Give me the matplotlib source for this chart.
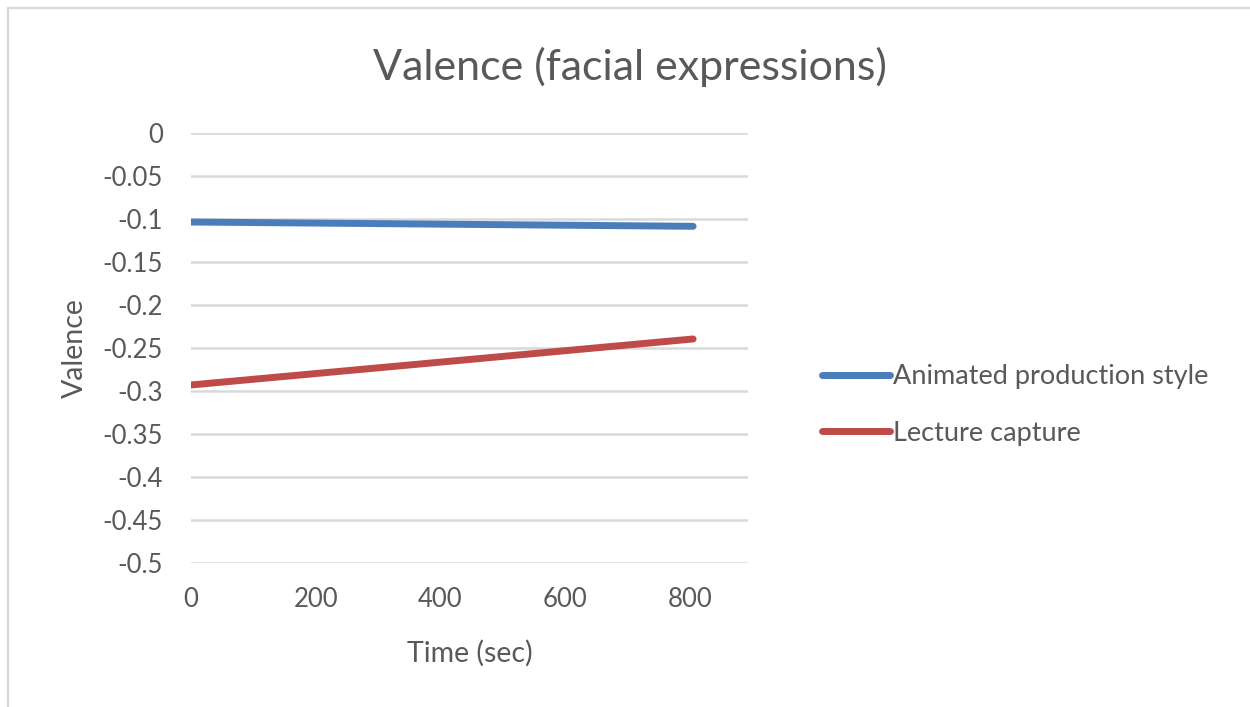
import matplotlib
matplotlib.use("Agg")
import matplotlib.pyplot as plt
from matplotlib.patches import Rectangle

# data
time_sec = [0, 805]
animated = [-0.1035, -0.1085]
lecture = [-0.293, -0.2395]
series_names = ["Animated production style", "Lecture capture"]
x_ticks = [0, 200, 400, 600, 800]
y_ticks = [0, -0.05, -0.1, -0.15, -0.2, -0.25, -0.3, -0.35, -0.4, -0.45, -0.5]
y_labels = ["0", "-0.05", "-0.1", "-0.15", "-0.2", "-0.25", "-0.3", "-0.35", "-0.4", "-0.45", "-0.5"]

txt = "#595959"
grid = "#d9d9d9"
plt.rcParams["font.family"] = ["Lato", "DejaVu Sans"]

fig = plt.figure(figsize=(12.5, 7.07), dpi=100)
ax = fig.add_axes([191 / 1250, 1 - 563 / 707, 557 / 1250, 430 / 707])

# outer chart frame (only top/left visible in the crop)
fig.patches.append(Rectangle((8 / 1250, -0.1), 1.2, 1 - 8 / 707 + 0.1,
                             transform=fig.transFigure, fill=False,
                             edgecolor=grid, linewidth=1.6))

ax.plot(time_sec, animated, color="#4a7ebb", lw=5, solid_capstyle="round",
        label=series_names[0])
ax.plot(time_sec, lecture, color="#be4b48", lw=5, solid_capstyle="round",
        label=series_names[1])

ax.set_xlim(0, 893)
ax.set_ylim(-0.5, 0)
ax.set_xticks(x_ticks)
ax.set_yticks(y_ticks)
ax.set_yticklabels(y_labels)
ax.yaxis.grid(True, color=grid, lw=1.8)
ax.set_axisbelow(True)
for s in ax.spines.values():
    s.set_visible(False)
ax.tick_params(length=0, labelsize=18.5, labelcolor=txt)
ax.tick_params(axis="y", pad=20)
ax.tick_params(axis="x", pad=17)

ax.set_xlabel("Time (sec)", fontsize=20.5, color=txt, labelpad=20)
ax.set_ylabel("Valence", fontsize=20.5, color=txt, labelpad=11)
fig.text(630 / 1250, 1 - 67 / 707, "Valence (facial expressions)", ha="center",
         va="center", fontsize=31, color=txt)

leg = ax.legend(loc="center left", bbox_to_anchor=(798 / 1250, 1 - 405 / 707),
                bbox_transform=fig.transFigure, frameon=False, fontsize=19.5,
                labelcolor=txt, handlelength=2.5, handletextpad=0.1,
                labelspacing=1.15, borderpad=0.4)

fig.savefig("out.png", dpi=100, facecolor="white")
